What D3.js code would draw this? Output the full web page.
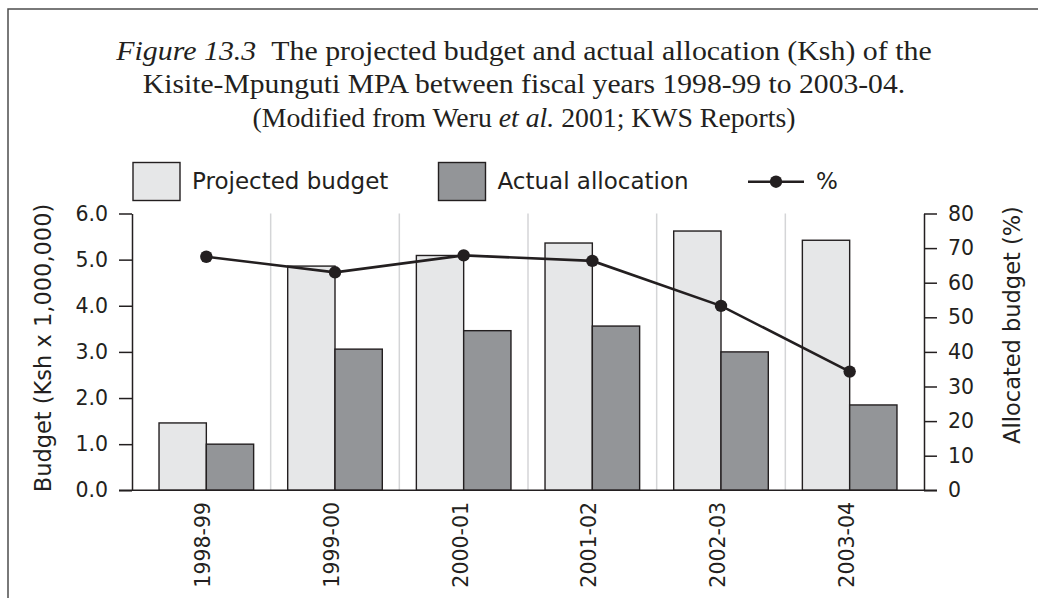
<!DOCTYPE html>
<html>
<head>
<meta charset="utf-8">
<script src="https://cdn.jsdelivr.net/npm/d3@7"></script>
<style>
  html, body { margin: 0; padding: 0; background: #fff; }
  svg { display: block; }
  .sans { font-family: "DejaVu Sans", sans-serif; fill: #231f20; }
  .serif { font-family: "Liberation Serif", "Times New Roman", serif; fill: #231f20; }
</style>
</head>
<body>
<svg id="chart" width="1038" height="598"></svg>
<script>
// Kisite-Mpunguti MPA budget vs. actual allocation, Ksh millions
const YEARS = ["1998-99", "1999-00", "2000-01", "2001-02", "2002-03", "2003-04"];
const PROJECTED = [1.46, 4.86, 5.09, 5.36, 5.62, 5.42];
const ACTUAL = [1.00, 3.06, 3.46, 3.56, 3.00, 1.85];
const PERCENT = [67.5, 63.0, 67.9, 66.3, 53.3, 34.3];
const SERIES = ["Projected budget", "Actual allocation"];
const LEFT_TICKS = [0, 1, 2, 3, 4, 5, 6];
const RIGHT_TICKS = [0, 10, 20, 30, 40, 50, 60, 70, 80];

const INK = "#231f20";
const FILL = { "Projected budget": "#e6e7e8", "Actual allocation": "#939598" };

const W = 1038, H = 598;
const m = { l: 132, r: 924, t: 213.5, b: 490.3 };
const svg = d3.select("#chart");

// ---- frame (only top and left edges are visible in the crop) ----
svg.append("path")
  .attr("d", `M8,${H} L8,9 L${W},9`)
  .attr("fill", "none").attr("stroke", "#4d4d4d").attr("stroke-width", 1.5);

// ---- title: three centred lines, each stretched a bit to the printed width ----
// parts are [text, italic?]
const TITLE_LINES = [
  [["Figure 13.3", true], ["\u00a0\u00a0The projected budget and actual allocation (Ksh) of the", false]],
  [["Kisite-Mpunguti MPA between fiscal years 1998-99 to 2003-04.", false]],
  [["(Modified from Weru ", false], ["et al.", true], [" 2001; KWS Reports)", false]],
];
const titleY = [59.5, 93, 127];
const titleStretch = [1.12, 1.11, 1.04];
TITLE_LINES.forEach((parts, i) => {
  const t = svg.append("text").attr("class", "serif")
    .attr("transform", `translate(524,${titleY[i]}) scale(${titleStretch[i]},1)`)
    .attr("text-anchor", "middle").style("font-size", "26.7px");
  parts.forEach(([s, it]) => {
    t.append("tspan").style("font-style", it ? "italic" : null).text(s);
  });
});

// ---- scales ----
const x0 = d3.scaleBand().domain(YEARS).range([m.l + 10, m.r - 10]);
const x1 = d3.scaleBand().domain(SERIES).range([0, x0.bandwidth()]).paddingOuter(0.36);
const yL = d3.scaleLinear().domain([0, 6]).range([m.b, m.t]);
const yR = d3.scaleLinear().domain([0, 80]).range([m.b, m.t]);

// ---- vertical separators between years ----
svg.append("g").selectAll("line").data(YEARS.slice(1)).join("line")
  .attr("x1", (d) => x0(d)).attr("x2", (d) => x0(d))
  .attr("y1", m.t).attr("y2", m.b)
  .attr("stroke", "#d4d5d7").attr("stroke-width", 1.5);

// ---- bars ----
const rows = YEARS.map((y, i) => ({ year: y, vals: [PROJECTED[i], ACTUAL[i]] }));
svg.append("g").selectAll("g").data(rows).join("g")
  .attr("transform", (d) => `translate(${x0(d.year)},0)`)
  .selectAll("rect").data((d) => SERIES.map((s, k) => ({ s, v: d.vals[k] })))
  .join("rect")
  .attr("x", (d) => x1(d.s)).attr("width", x1.bandwidth())
  .attr("y", (d) => yL(d.v)).attr("height", (d) => yL(0) - yL(d.v))
  .attr("fill", (d) => FILL[d.s]).attr("stroke", INK).attr("stroke-width", 1.4);

// ---- axes ----
function styleAxis(g) {
  g.attr("font-family", null).attr("font-size", null);
  g.selectAll("path, line").attr("stroke", INK).attr("stroke-width", 1.5);
  g.selectAll("text").attr("class", "sans").attr("fill", INK)
    .style("font-size", "20.5px");
}
svg.append("g").attr("transform", `translate(${m.l},0)`)
  .call(d3.axisLeft(yL).tickValues(LEFT_TICKS).tickFormat(d3.format(".1f"))
    .tickSize(13).tickPadding(11).tickSizeOuter(0))
  .call(styleAxis);
svg.append("g").attr("transform", `translate(${m.r},0)`)
  .call(d3.axisRight(yR).tickValues(RIGHT_TICKS)
    .tickSize(13).tickPadding(11).tickSizeOuter(0))
  .call(styleAxis);
// baseline across the plot
svg.append("line").attr("x1", m.l - 13).attr("x2", m.r + 13)
  .attr("y1", m.b).attr("y2", m.b)
  .attr("stroke", INK).attr("stroke-width", 1.5);

// x labels, rotated
svg.append("g").selectAll("text").data(YEARS).join("text")
  .attr("class", "sans").style("font-size", "20.5px")
  .attr("text-anchor", "end").attr("dy", "0.34em")
  .attr("transform", (d) => `translate(${x0(d) + x0.bandwidth() / 2 - 3},502) rotate(-90)`)
  .text((d) => d);

// axis titles
svg.append("text").attr("class", "sans").style("font-size", "22.5px")
  .attr("text-anchor", "middle")
  .attr("transform", "translate(51,348) rotate(-90)")
  .text("Budget (Ksh x 1,000,000)");
svg.append("text").attr("class", "sans").style("font-size", "22.5px")
  .attr("text-anchor", "middle")
  .attr("transform", "translate(1020,325) rotate(-90)")
  .text("Allocated budget (%)");

// ---- percent line ----
const cx = (d, i) => x0(YEARS[i]) + x0.bandwidth() / 2;
svg.append("path").datum(PERCENT)
  .attr("d", d3.line().x(cx).y((d) => yR(d)))
  .attr("fill", "none").attr("stroke", INK).attr("stroke-width", 2.6);
svg.append("g").selectAll("circle").data(PERCENT).join("circle")
  .attr("cx", cx).attr("cy", (d) => yR(d)).attr("r", 6.2).attr("fill", INK);

// ---- legend ----
const legend = svg.append("g").attr("transform", "translate(0,181)");
const boxX = [133, 438.5];
SERIES.forEach((s, i) => {
  legend.append("rect").attr("x", boxX[i]).attr("y", -18.5)
    .attr("width", 47).attr("height", 38)
    .attr("fill", FILL[s]).attr("stroke", INK).attr("stroke-width", 1.4);
  legend.append("text").attr("class", "sans").style("font-size", "23px")
    .attr("x", boxX[i] + 59).attr("y", 8).text(s);
});
legend.append("line").attr("x1", 748).attr("x2", 804).attr("y1", 0.7).attr("y2", 0.7)
  .attr("stroke", INK).attr("stroke-width", 2.6);
legend.append("circle").attr("cx", 776).attr("cy", 0.7).attr("r", 6.2).attr("fill", INK);
legend.append("text").attr("class", "sans").style("font-size", "23px")
  .attr("x", 816).attr("y", 8).text("%");
</script>
</body>
</html>
